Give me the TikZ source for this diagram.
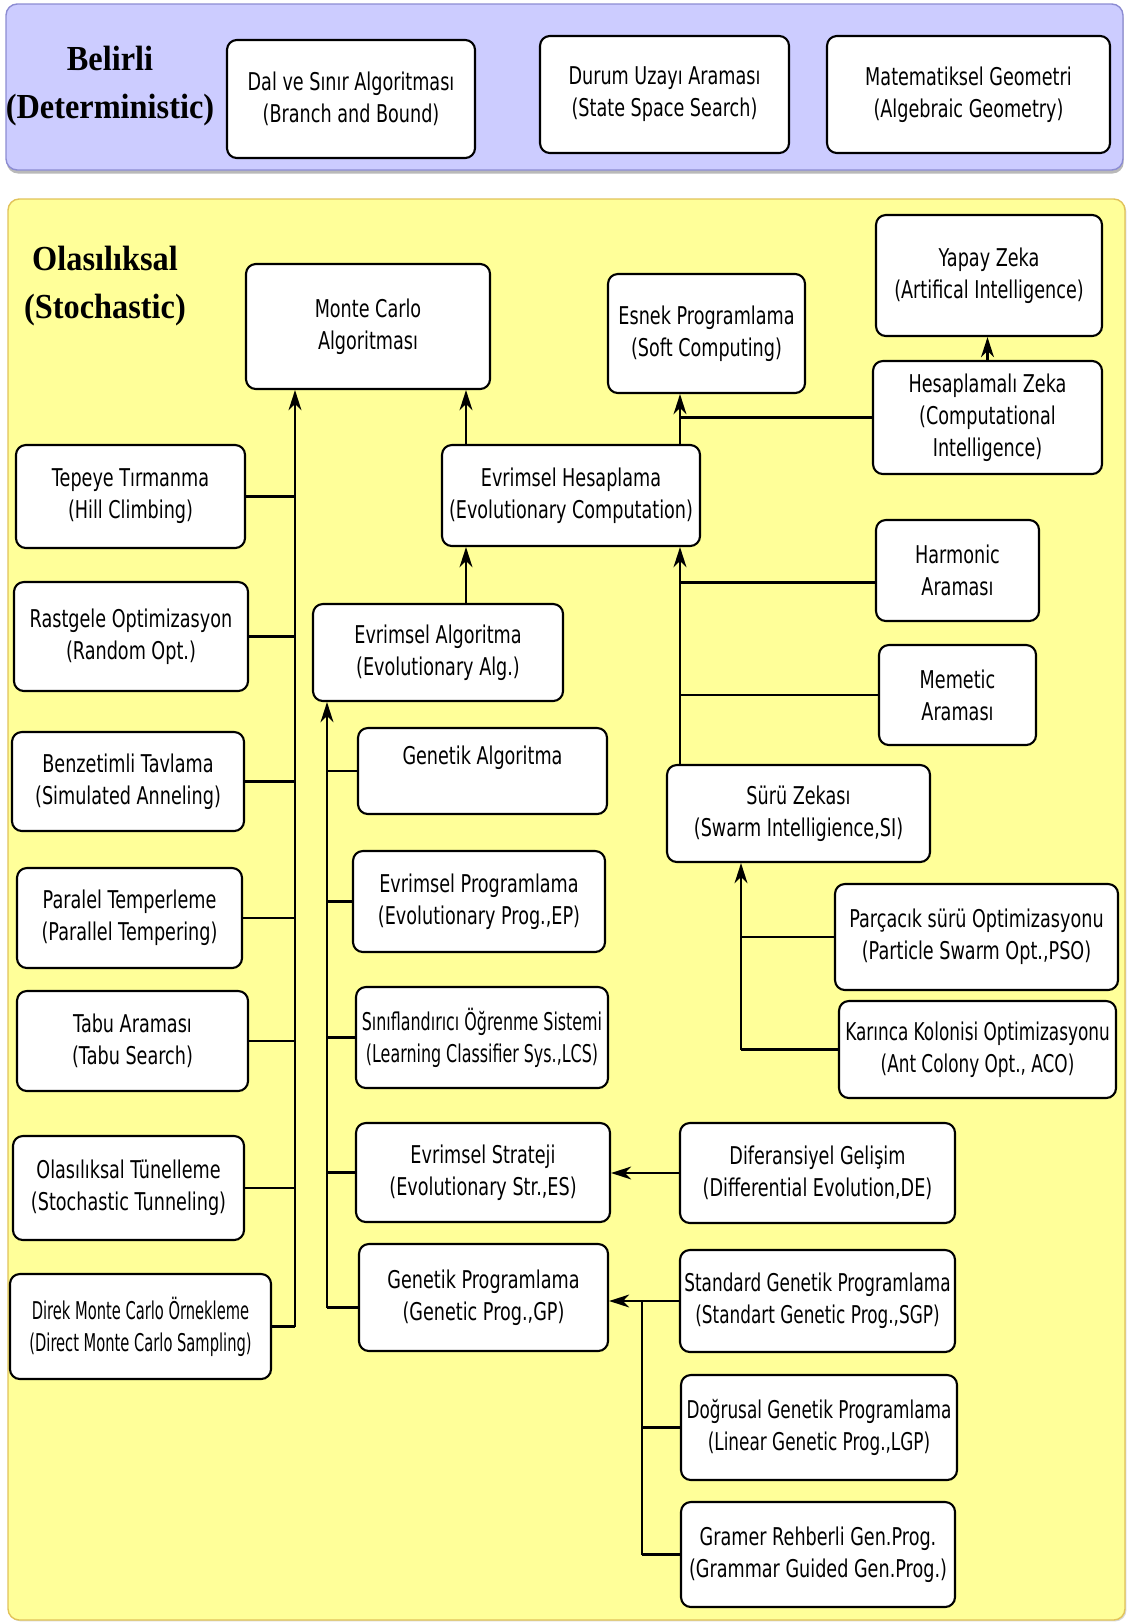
\documentclass[tikz,border=0pt]{standalone}
\usepackage{fontspec}
\setmainfont{DejaVu Sans}[FakeStretch=0.72]
\newfontfamily\slimfont{DejaVu Sans}[FakeStretch=0.69]
\newfontfamily\thinfont{DejaVu Sans}[FakeStretch=0.65]
\newfontfamily\thinnerfont{DejaVu Sans}[FakeStretch=0.60]
\newfontfamily\headfont{Liberation Serif}[FakeStretch=0.92]
\usetikzlibrary{arrows.meta,shadows}
\definecolor{detfill}{RGB}{204,204,255}
\definecolor{detline}{RGB}{140,140,210}
\definecolor{stofill}{RGB}{255,255,153}
\definecolor{stoline}{RGB}{225,195,90}
\tikzset{
  box/.style={draw=black, line width=1.5pt, rounded corners=7pt, fill=white, align=center,
              inner sep=2pt, font=\fontsize{17.4}{22.8}\selectfont},
  slim/.style={font=\slimfont\fontsize{17.4}{22.8}\selectfont},
  thin/.style={font=\thinfont\fontsize{17.4}{22.8}\selectfont},
  thinner/.style={font=\thinnerfont\fontsize{17.4}{22.8}\selectfont},
  head/.style={align=center, font=\headfont\bfseries\fontsize{25}{34}\selectfont},
  arr/.style={-{Stealth[length=5mm, width=3.2mm, inset=1.5mm]}, line width=1.6pt},
  ln/.style={line width=1.6pt},
  panel/.style={rounded corners=8pt, line width=1pt},
}
% box from its corners, in pixels of the reference
\newcommand{\boxat}[7][]{%
  \node[box, #1, minimum width={(#5-#3)*0.025cm}, minimum height={(#6-#4)*0.025cm}]
    (#2) at ({(#3+#5)/2},{(#4+#6)/2}) {#7};}

\begin{document}
\begin{tikzpicture}[x=0.025cm, y=-0.025cm]
  \useasboundingbox (0,0) rectangle (1127,1624);

  % panels
  \path[panel, fill=detfill, draw=detline,
        drop shadow={shadow xshift=0.5pt, shadow yshift=-2.5pt, fill=black!55}] (6,4) rectangle (1123,170);
  \path[panel, fill=stofill, draw=stoline,
        drop shadow={shadow xshift=1pt, shadow yshift=-1pt, fill=black!30}] (8,199) rectangle (1125,1620);

  \node[head] (dethead) at (110,86) {Belirli\\(Deterministic)};
  \node[head] (stohead) at (105,286) {Olasılıksal\\(Stochastic)};

  % deterministic
  \boxat{bab}{227}{40}{475}{158}{Dal ve Sınır Algoritması\\(Branch and Bound)}
  \boxat{sss}{540}{36}{789}{153}{Durum Uzayı Araması\\(State Space Search)}
  \boxat{alg}{827}{36}{1110}{153}{Matematiksel Geometri\\(Algebraic Geometry)}

  % stochastic
  \boxat{mc}{246}{264}{490}{389}{Monte Carlo\\Algoritması}
  \boxat{sc}{608}{274}{805}{393}{Esnek Programlama\\(Soft Computing)}
  \boxat{ai}{876}{215}{1102}{336}{Yapay Zeka\\(Artifical Intelligence)}
  \boxat{ci}{873}{361}{1102}{474}{Hesaplamalı Zeka\\(Computational\\Intelligence)}
  \boxat{ec}{442}{445}{700}{546}{Evrimsel Hesaplama\\(Evolutionary Computation)}
  \boxat{hc}{16}{445}{245}{548}{Tepeye Tırmanma\\(Hill Climbing)}
  \boxat{ro}{14}{582}{248}{691}{Rastgele Optimizasyon\\(Random Opt.)}
  \boxat{ea}{313}{604}{563}{701}{Evrimsel Algoritma\\(Evolutionary Alg.)}
  \boxat{hs}{876}{520}{1039}{621}{Harmonic\\Araması}
  \boxat{ms}{879}{645}{1036}{745}{Memetic\\Araması}
  \boxat{sa}{12}{732}{244}{831}{Benzetimli Tavlama\\(Simulated Anneling)}
  \boxat{ga}{358}{728}{607}{814}{Genetik Algoritma\\\mbox{}}
  \boxat{si}{667}{765}{930}{862}{Sürü Zekası\\(Swarm Intelligience,SI)}
  \boxat{ep}{353}{851}{605}{952}{Evrimsel Programlama\\(Evolutionary Prog.,EP)}
  \boxat{pt}{17}{868}{242}{968}{Paralel Temperleme\\(Parallel Tempering)}
  \boxat{pso}{835}{884}{1118}{990}{Parçacık sürü Optimizasyonu\\(Particle Swarm Opt.,PSO)}
  \boxat[thin]{lcs}{356}{987}{608}{1088}{Sınıflandırıcı Öğrenme Sistemi\\(Learning Classifier Sys.,LCS)}
  \boxat{ts}{17}{991}{248}{1091}{Tabu Araması\\(Tabu Search)}
  \boxat[slim]{aco}{839}{1001}{1116}{1098}{Karınca Kolonisi Optimizasyonu\\(Ant Colony Opt., ACO)}
  \boxat{es}{356}{1123}{610}{1222}{Evrimsel Strateji\\(Evolutionary Str.,ES)}
  \boxat{de}{680}{1123}{955}{1223}{Diferansiyel Gelişim\\(Differential Evolution,DE)}
  \boxat{st}{13}{1136}{244}{1240}{Olasılıksal Tünelleme\\(Stochastic Tunneling)}
  \boxat{gp}{359}{1244}{608}{1351}{Genetik Programlama\\(Genetic Prog.,GP)}
  \boxat[thinner]{dmc}{10}{1274}{271}{1379}{Direk Monte Carlo Örnekleme\\(Direct Monte Carlo Sampling)}
  \boxat[slim]{sgp}{680}{1250}{955}{1352}{Standard Genetik Programlama\\(Standart Genetic Prog.,SGP)}
  \boxat[slim]{lgp}{681}{1375}{957}{1480}{Doğrusal Genetik Programlama\\(Linear Genetic Prog.,LGP)}
  \boxat{ggp}{681}{1502}{955}{1607}{Gramer Rehberli Gen.Prog.\\(Grammar Guided Gen.Prog.)}

  % left bus into Monte Carlo
  \coordinate (mcbus) at (295,1327);
  \draw[arr] (mcbus) -- (mcbus |- mc.south);
  \foreach \n in {hc,ro,sa,pt,ts,st,dmc}
    \draw[ln] (\n.east) -- (\n.east -| mcbus);

  % evolutionary chain
  \coordinate (ecx) at (466,0);
  \draw[arr] (ec.north -| ecx) -- (mc.south -| ecx);
  \draw[arr] (ea.north -| ecx) -- (ec.south -| ecx);

  % soft computing and intelligence
  \coordinate (scbus) at (680,0);
  \draw[arr] (ec.north -| scbus) -- (sc.south -| scbus);
  \draw[ln] (ci.west) -- (ci.west -| scbus);
  \draw[arr] (ci.north) -- (ci.north |- ai.south);

  % swarm, harmonic, memetic into EC
  \draw[arr] (si.north -| scbus) -- (ec.south -| scbus);
  \draw[ln] ([yshift=-0.3cm]hs.west) -- ([yshift=-0.3cm]hs.west -| scbus);
  \draw[ln] (ms.west) -- (ms.west -| scbus);

  % swarm members
  \coordinate (sibus) at (741,0);
  \draw[arr] (aco.west -| sibus) -- (si.south -| sibus);
  \draw[ln] (pso.west) -- (pso.west -| sibus);
  \draw[ln] (aco.west) -- (aco.west -| sibus);

  % evolutionary algorithm members
  \coordinate (eabus) at (327,0);
  \coordinate (gpstub) at ([yshift=-0.25cm]gp.west);
  \draw[arr] (gpstub -| eabus) -- (ea.south -| eabus);
  \foreach \n in {ga,ep,lcs,es}
    \draw[ln] (\n.west) -- (\n.west -| eabus);
  \draw[ln] (gpstub) -- (gpstub -| eabus);

  % differential evolution and GP variants
  \draw[arr] (de.west) -- (de.west -| es.east);
  \coordinate (gpbus) at (642,0);
  \draw[arr] (sgp.west) -- (sgp.west -| gp.east);
  \draw[ln] (sgp.west -| gpbus) -- (ggp.west -| gpbus);
  \draw[ln] (lgp.west) -- (lgp.west -| gpbus);
  \draw[ln] (ggp.west) -- (ggp.west -| gpbus);
\end{tikzpicture}
\end{document}
